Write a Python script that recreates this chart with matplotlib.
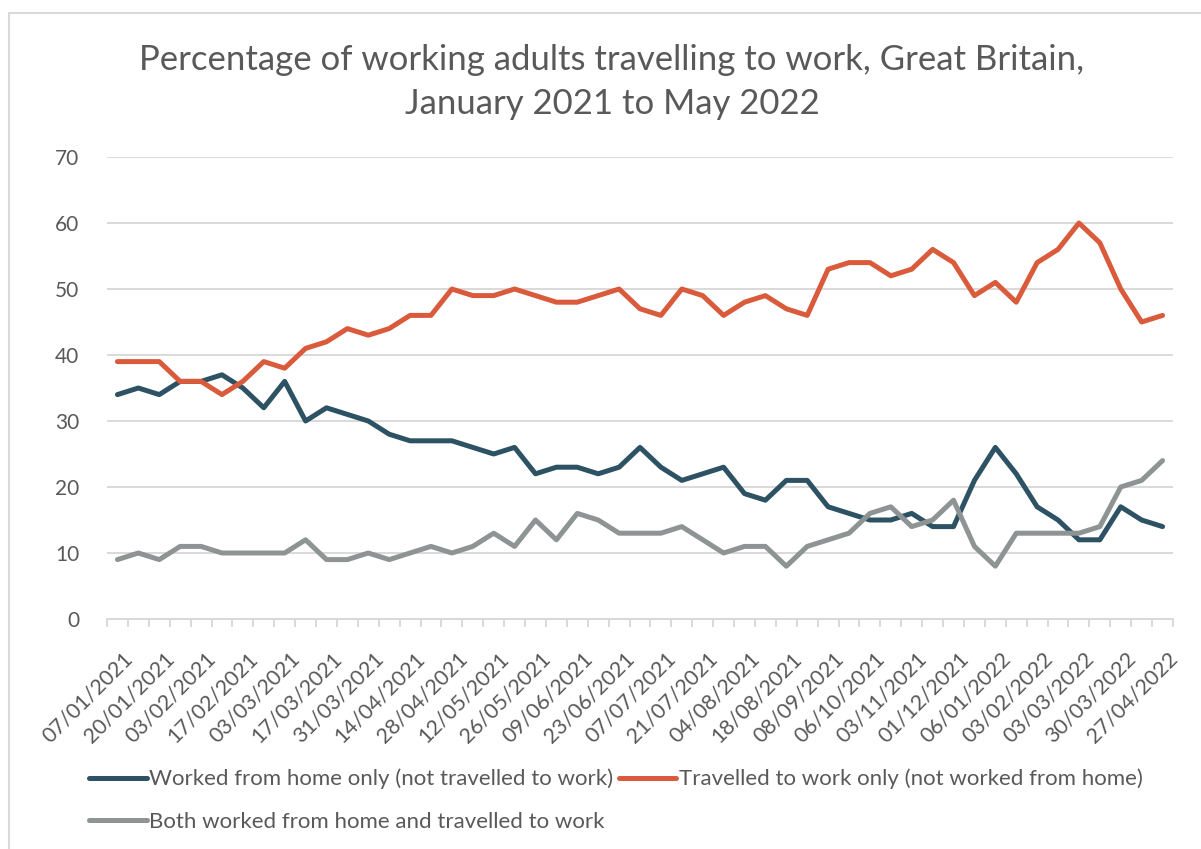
import matplotlib
matplotlib.use("Agg")
import matplotlib.pyplot as plt
from matplotlib.patches import Rectangle
from matplotlib.transforms import ScaledTranslation

plt.rcParams['font.family'] = ['Lato', 'DejaVu Sans']

title = "Percentage of working adults travelling to work, Great Britain,\nJanuary 2021 to May 2022"

date_labels = ["07/01/2021", "20/01/2021", "03/02/2021", "17/02/2021", "03/03/2021",
               "17/03/2021", "31/03/2021", "14/04/2021", "28/04/2021", "12/05/2021",
               "26/05/2021", "09/06/2021", "23/06/2021", "07/07/2021", "21/07/2021",
               "04/08/2021", "18/08/2021", "08/09/2021", "06/10/2021", "03/11/2021",
               "01/12/2021", "06/01/2022", "03/02/2022", "03/03/2022", "30/03/2022",
               "27/04/2022"]

home_only = [34, 35, 34, 36, 36, 37, 35, 32, 36, 30,
             32, 31, 30, 28, 27, 27, 27, 26, 25, 26,
             22, 23, 23, 22, 23, 26, 23, 21, 22, 23,
             19, 18, 21, 21, 17, 16, 15, 15, 16, 14,
             14, 21, 26, 22, 17, 15, 12, 12, 17, 15, 14]

travel_only = [39, 39, 39, 36, 36, 34, 36, 39, 38, 41,
               42, 44, 43, 44, 46, 46, 50, 49, 49, 50,
               49, 48, 48, 49, 50, 47, 46, 50, 49, 46,
               48, 49, 47, 46, 53, 54, 54, 52, 53, 56,
               54, 49, 51, 48, 54, 56, 60, 57, 50, 45, 46]

both = [9, 10, 9, 11, 11, 10, 10, 10, 10, 12,
        9, 9, 10, 9, 10, 11, 10, 11, 13, 11,
        15, 12, 16, 15, 13, 13, 13, 14, 12, 10,
        11, 11, 8, 11, 12, 13, 16, 17, 14, 15,
        18, 11, 8, 13, 13, 13, 13, 14, 20, 21, 24]

names = ["Worked from home only (not travelled to work)",
         "Travelled to work only (not worked from home)",
         "Both worked from home and travelled to work"]
colors = ["#2C5264", "#D95B3C", "#8E9493"]
text_col = "#595959"
grid_col = "#D9D9D9"

W, H = 1201, 849
fig = plt.figure(figsize=(W / 100, H / 100), dpi=100)
ax = fig.add_axes([107 / W, 1 - 619 / H, (1173 - 107) / W, (619 - 157) / H])

xs = list(range(len(home_only)))
lines = []
for ys, c, n in zip([home_only, travel_only, both], colors, names):
    ln, = ax.plot(xs, ys, color=c, lw=3.6, label=n,
                  solid_capstyle='round', solid_joinstyle='round')
    lines.append(ln)

ax.set_xlim(-0.5, len(xs) - 0.5)
ax.set_ylim(0, 70)
ax.set_yticks(range(0, 80, 10))
ax.yaxis.grid(True, color=grid_col, lw=1.4)
ax.set_axisbelow(True)
ax.tick_params(axis='y', length=0, pad=20, labelsize=15, labelcolor=text_col)

ax.set_xticks(range(0, len(xs), 2))
ax.set_xticklabels(date_labels, rotation=45, ha='right', va='top',
                   rotation_mode='anchor')
ax.set_xticks([i - 0.5 for i in range(len(xs) + 1)], minor=True)
ax.tick_params(axis='x', which='major', length=0, pad=21, labelsize=15.5,
               labelcolor=text_col)
ax.tick_params(axis='x', which='minor', length=6, width=1.4, color=grid_col,
               direction='out')
for lbl in ax.get_xticklabels():
    lbl.set_transform(lbl.get_transform() + ScaledTranslation(0.05, 0, fig.dpi_scale_trans))

for s in ['left', 'right', 'top']:
    ax.spines[s].set_visible(False)
ax.spines['bottom'].set_color(grid_col)
ax.spines['bottom'].set_linewidth(1.4)

fig.text(612 / W, 1 - 44 / H, title, ha='center', va='top', fontsize=25,
         color=text_col, linespacing=1.45)

fig.legend([lines[0], lines[2], lines[1]], [names[0], names[2], names[1]],
           ncol=2, loc='upper left', bbox_to_anchor=(80 / W, 1 - 760 / H),
           frameon=False, fontsize=16, labelcolor=text_col, handlelength=2.6,
           handletextpad=0.1, columnspacing=0.25, labelspacing=1.0,
           borderaxespad=0)

fig.patches.append(Rectangle((9 / W, -0.1), 1.2, 1.1 - 13 / H,
                             transform=fig.transFigure, fill=False,
                             edgecolor=grid_col, lw=1.5))

fig.savefig("out.png", dpi=100)
